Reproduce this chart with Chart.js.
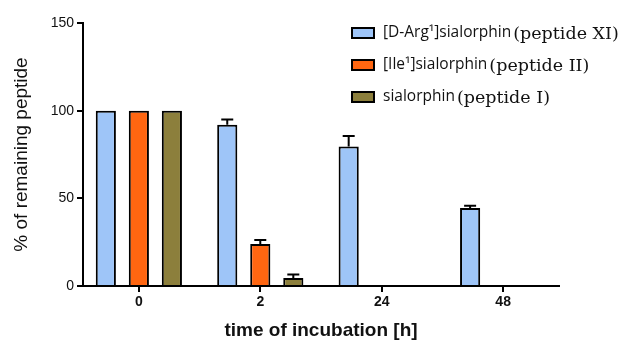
<!DOCTYPE html>
<html>
<head>
<meta charset="utf-8">
<script src="https://cdn.jsdelivr.net/npm/chart.js@4"></script>
<style>
  html, body { margin: 0; padding: 0; background: #fff; }
  #wrap { width: 636px; height: 342px; }
</style>
</head>
<body>
<div id="wrap"><canvas id="grafica" width="636" height="342"></canvas></div>
<script>
const categorias = ['0', '2', '24', '48'];
const nombres = ['[D-Arg\u00B9]sialorphin (peptide XI)', '[Ile\u00B9]sialorphin (peptide II)', 'sialorphin (peptide I)'];
const pepXI = [100, 92, 79.5, 44.5];
const pepII = [100, 24, null, null];
const pepI = [100, 4.5, null, null];
const errXI = [0, 3, 6, 1.2];
const errII = [0, 2.2, 0, 0];
const errI = [0, 2, 0, 0];
const ticksY = [0, 50, 100, 150];
const colores = ['#9ec5f8', '#ff6611', '#8c7f3c'];

const series = [pepXI, pepII, pepI];
const errores = [errXI, errII, errI];

const barrasError = {
    id: 'barrasError',
    afterDatasetsDraw(chart) {
        const ctx = chart.ctx;
        const y = chart.scales.y;
        ctx.save();
        ctx.strokeStyle = '#000';
        ctx.lineWidth = 2;
        chart.data.datasets.forEach((ds, i) => {
            const meta = chart.getDatasetMeta(i);
            meta.data.forEach((bar, j) => {
                const v = series[i][j];
                const e = errores[i][j];
                if (v === null || !e) return;
                const top = y.getPixelForValue(v + e);
                ctx.beginPath();
                ctx.moveTo(bar.x, bar.y);
                ctx.lineTo(bar.x, top);
                ctx.moveTo(bar.x - 6, top);
                ctx.lineTo(bar.x + 6, top);
                ctx.stroke();
            });
        });
        ctx.restore();
    }
};

const leyenda = {
    id: 'leyenda',
    afterDraw(chart) {
        const ctx = chart.ctx;
        ctx.save();
        const filas = [33, 65, 97];
        nombres.forEach((n, i) => {
            const yy = filas[i];
            ctx.fillStyle = colores[i];
            ctx.fillRect(352, yy - 5, 22, 10);
            ctx.strokeStyle = '#000';
            ctx.lineWidth = 2;
            ctx.strokeRect(352, yy - 5, 22, 10);
            const k = n.indexOf(' (');
            const a = n.slice(0, k);
            const b = n.slice(k + 1);
            ctx.fillStyle = '#111';
            ctx.textBaseline = 'middle';
            ctx.font = '15.5px "Open Sans", sans-serif';
            ctx.fillText(a, 383, yy);
            const w = ctx.measureText(a).width;
            ctx.font = '17.5px "DejaVu Serif", serif';
            ctx.fillText(b, 383 + w + 2, yy + 1);
        });
        ctx.restore();
    }
};

const ctx = document.getElementById('grafica').getContext('2d');
new Chart(ctx, {
    type: 'bar',
    data: {
        datasets: series.map((s, i) => ({
            label: nombres[i],
            data: s.map((v, j) => ({ x: j, y: v })),
            backgroundColor: colores[i],
            borderColor: '#000',
            borderWidth: 2,
            borderSkipped: 'bottom',
            categoryPercentage: 0.816,
            barPercentage: 0.61
        }))
    },
    options: {
        responsive: false,
        animation: false,
        layout: { padding: { left: 0, right: 77, top: 23, bottom: 0 } },
        plugins: {
            legend: { display: false },
            tooltip: { enabled: false }
        },
        scales: {
            x: {
                type: 'linear',
                offset: false,
                min: -0.46,
                max: 3.46,
                afterBuildTicks: (s) => { s.ticks = categorias.map((c, i) => ({ value: i })); },
                afterFit: (s) => { s.height = 56; },
                ticks: {
                    callback: (v) => categorias[v],
                    color: '#111',
                    font: { family: 'Liberation Sans', size: 14, weight: 'bold' },
                    padding: 2
                },
                grid: { offset: false, drawOnChartArea: false, color: '#000', lineWidth: 2, tickLength: 6 },
                border: { color: '#000', width: 2 },
                title: {
                    display: true,
                    text: 'time of incubation [h]',
                    color: '#111',
                    font: { family: 'Liberation Sans', size: 19, weight: 'bold' },
                    padding: { top: 0, bottom: 0 }
                }
            },
            y: {
                min: 0,
                max: 150,
                afterBuildTicks: (s) => { s.ticks = ticksY.map(v => ({ value: v })); },
                afterFit: (s) => { s.width = 83; },
                ticks: {
                    color: '#111',
                    font: { family: 'Liberation Sans', size: 14 },
                    padding: 3
                },
                grid: { drawOnChartArea: false, color: '#000', lineWidth: 2, tickLength: 6 },
                border: { color: '#000', width: 2 },
                title: {
                    display: true,
                    text: '% of remaining peptide',
                    color: '#111',
                    font: { family: 'Liberation Sans', size: 19 },
                    padding: { top: 10, bottom: 0 }
                }
            }
        }
    },
    plugins: [barrasError, leyenda]
});
</script>
</body>
</html>
